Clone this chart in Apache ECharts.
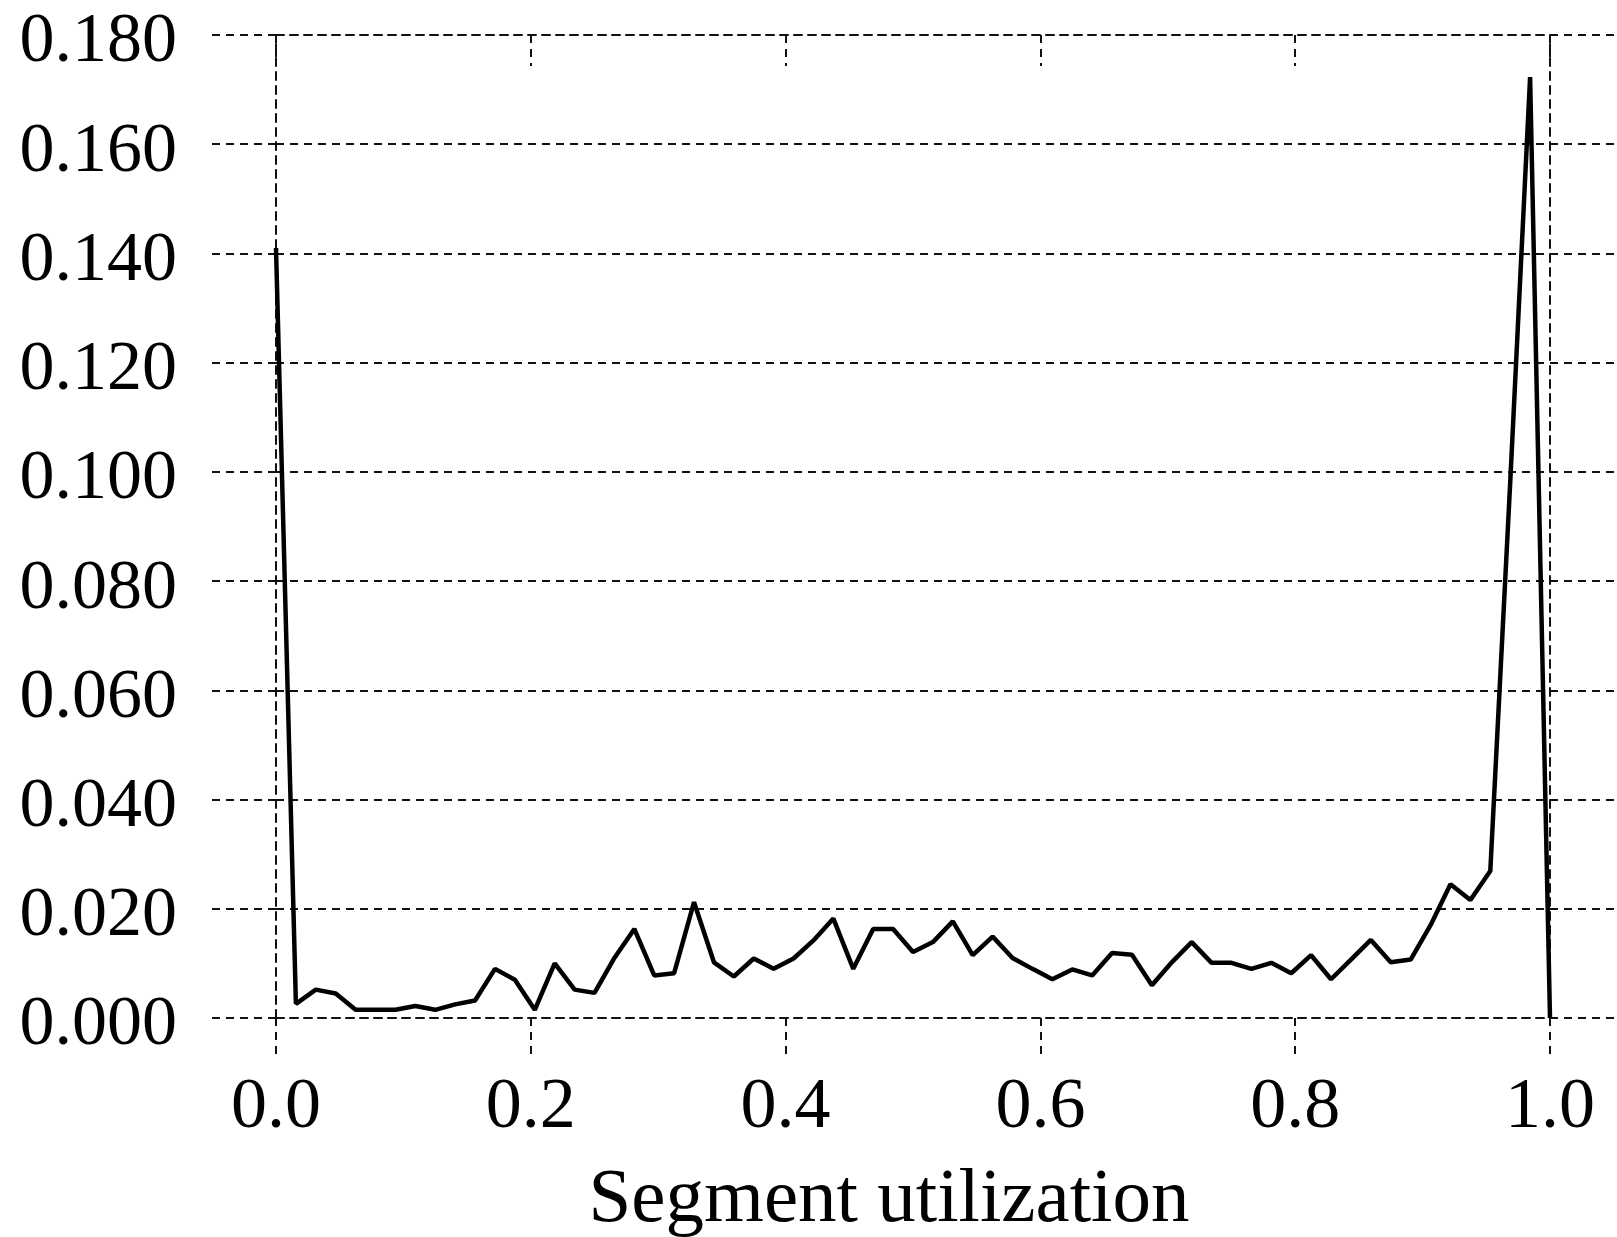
<!DOCTYPE html>
<html>
<head>
<meta charset="utf-8">
<script src="https://cdn.jsdelivr.net/npm/echarts@6/dist/echarts.min.js"></script>
<style>html,body{margin:0;padding:0;background:#fff;}#c{width:1617px;height:1237px;}</style>
</head>
<body>
<div id="c"></div>
<script>
// Fraction of segments per utilization bin (bins of width 1/64 from 0.0 to 1.0)
const binCount = 64;
const fractions = [0.141, 0.0026, 0.0052, 0.0045, 0.0015, 0.0015, 0.0015, 0.0022, 0.0015, 0.0025,
  0.0032, 0.009, 0.007, 0.0015, 0.010, 0.0052, 0.0046, 0.011, 0.0163, 0.0078,
  0.0082, 0.0212, 0.0102, 0.0076, 0.0109, 0.009, 0.0109, 0.0142, 0.0182, 0.009,
  0.0163, 0.0163, 0.0121, 0.0139, 0.0177, 0.0115, 0.0149, 0.011, 0.009, 0.0071,
  0.0089, 0.0078, 0.0119, 0.0116, 0.006, 0.0102, 0.0139, 0.0101, 0.0101, 0.009,
  0.0101, 0.0082, 0.0115, 0.0071, 0.0107, 0.0143, 0.0102, 0.0107, 0.017, 0.0245,
  0.0216, 0.0269, 0.098, 0.1723, 0.0];
const utilization = fractions.map((_, i) => i / binCount);
const xTicks = [0.0, 0.2, 0.4, 0.6, 0.8, 1.0];
const yTicks = [0.000, 0.020, 0.040, 0.060, 0.080, 0.100, 0.120, 0.140, 0.160, 0.180];
const xName = 'Segment utilization';

const FONT = '"Liberation Serif", "DejaVu Serif", serif';
const dash = {color: '#111', width: 2, type: [8, 6]};

const chart = echarts.init(document.getElementById('c'), null, {renderer: 'canvas'});
chart.setOption({
  backgroundColor: '#fff',
  animation: false,
  grid: {left: 276, right: 67, top: 35, bottom: 219, containLabel: false, outerBoundsMode: 'none'},
  xAxis: [{
    type: 'value', min: xTicks[0], max: xTicks[xTicks.length - 1], interval: 0.2,
    position: 'bottom',
    axisLine: {show: true, onZero: false, lineStyle: dash},
    axisTick: {show: true, inside: false, length: 40, lineStyle: dash},
    splitLine: {show: false},
    axisLabel: {fontFamily: FONT, fontSize: 72, color: '#000', margin: 54,
      formatter: v => v.toFixed(1)},
    name: xName, nameLocation: 'middle', nameGap: 144,
    nameTextStyle: {fontFamily: FONT, fontSize: 77, color: '#000', padding: [0, 48, 0, 0]}
  }, {
    type: 'value', min: 0, max: 1, interval: 0.2, position: 'top',
    axisLine: {show: true, onZero: false, lineStyle: dash},
    axisTick: {show: true, inside: true, length: 31, lineStyle: dash},
    axisLabel: {show: false}, splitLine: {show: false}
  }],
  yAxis: [{
    type: 'value', min: 0, max: yTicks[yTicks.length - 1], interval: 0.02, position: 'left',
    axisLine: {show: true, onZero: false, lineStyle: dash},
    axisTick: {show: true, inside: false, length: 66, lineStyle: dash},
    splitLine: {show: true, lineStyle: dash},
    axisLabel: {fontFamily: FONT, fontSize: 70, color: '#000', margin: 99,
      verticalAlign: 'top', lineHeight: 16, formatter: v => v.toFixed(3)}
  }, {
    type: 'value', min: 0, max: 0.18, interval: 0.02, position: 'right',
    axisLine: {show: true, onZero: false, lineStyle: dash},
    axisTick: {show: true, inside: false, length: 70, lineStyle: dash},
    splitLine: {show: false}, axisLabel: {show: false}
  }],
  series: [{
    type: 'line',
    xAxisIndex: 0, yAxisIndex: 0,
    data: utilization.map((x, i) => [x, fractions[i]]),
    showSymbol: false,
    lineStyle: {color: '#000', width: 4.5},
    z: 5
  }]
});
</script>
</body>
</html>
